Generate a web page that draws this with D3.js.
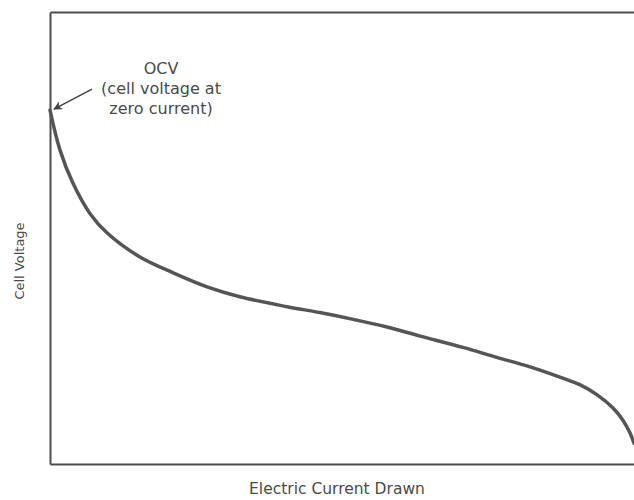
<!DOCTYPE html>
<html>
<head>
<meta charset="utf-8">
<script src="https://cdn.jsdelivr.net/npm/d3@7"></script>
<style>
  html, body { margin: 0; padding: 0; background: #fff; }
  svg { display: block; }
  text { font-family: "DejaVu Sans", sans-serif; fill: #4a4a4a; }
</style>
</head>
<body>
<svg id="chart" width="634" height="500"></svg>
<script>
// Current drawn (arbitrary units, 0–100)
const current = [0, 1.7, 3.9, 6.8, 9.8, 15.4, 21.1, 26.9, 32.5, 40.6, 46.2, 51.9, 57.7, 63.4, 70.7, 76.5, 82.2, 87.8, 90.8, 93.7, 96.4, 98.1, 99.3, 100];
// Cell voltage (arbitrary units, 0–100)
const voltage = [78.3, 69.5, 62.2, 55.5, 51.1, 45.8, 42.3, 39.2, 37.0, 34.8, 33.5, 32.0, 30.3, 28.3, 25.8, 23.6, 21.5, 19.0, 17.5, 15.3, 12.4, 9.7, 6.9, 4.6];
const xLabel = "Electric Current Drawn";
const yLabel = "Cell Voltage";
const annotationLines = ["OCV", "(cell voltage at", "zero current)"];

const svg = d3.select("#chart");
const margin = { left: 50, top: 12, right: 0, bottom: 36 };
const W = 634, H = 500;

const x = d3.scaleLinear().domain([0, 100]).range([margin.left, W - margin.right]);
const y = d3.scaleLinear().domain([0, 100]).range([H - margin.bottom, margin.top]);

const axisColor = "#4d4d4d";

// Frame: left, top, bottom
svg.append("g")
  .attr("transform", `translate(${margin.left},0)`)
  .call(d3.axisLeft(y).tickValues([]).tickSizeOuter(0))
  .call(g => g.select(".domain").attr("stroke", axisColor).attr("stroke-width", 2));
svg.append("g")
  .attr("transform", `translate(0,${y(0)})`)
  .call(d3.axisBottom(x).tickValues([]).tickSizeOuter(0))
  .call(g => g.select(".domain").attr("stroke", axisColor).attr("stroke-width", 2));
svg.append("g")
  .attr("transform", `translate(0,${y(100)})`)
  .call(d3.axisTop(x).tickValues([]).tickSizeOuter(0))
  .call(g => g.select(".domain").attr("stroke", axisColor).attr("stroke-width", 2));

// Curve
const data = current.map((c, i) => ({ c, v: voltage[i] }));
const line = d3.line().x(d => x(d.c)).y(d => y(d.v)).curve(d3.curveCatmullRom.alpha(0.5));
svg.append("path")
  .datum(data)
  .attr("d", line)
  .attr("fill", "none")
  .attr("stroke", "#555")
  .attr("stroke-width", 3.5)
  .attr("stroke-linecap", "round");

// Arrow marker
svg.append("defs").append("marker")
  .attr("id", "arrow")
  .attr("viewBox", "0 0 10 10")
  .attr("refX", 9).attr("refY", 5)
  .attr("markerWidth", 9).attr("markerHeight", 9)
  .attr("markerUnits", "userSpaceOnUse")
  .attr("orient", "auto")
  .append("path")
  .attr("d", "M0,0 L10,5 L0,10 L3,5 Z")
  .attr("fill", "#444");

// Annotation arrow pointing at OCV (first data point)
const ox = x(current[0]), oy = y(voltage[0]);
svg.append("line")
  .attr("x1", ox + 42).attr("y1", oy - 21)
  .attr("x2", ox + 4).attr("y2", oy - 1)
  .attr("stroke", "#444")
  .attr("stroke-width", 1.6)
  .attr("marker-end", "url(#arrow)");

// Annotation text
const ann = svg.append("text")
  .attr("text-anchor", "middle")
  .attr("font-size", 16);
annotationLines.forEach((t, i) => {
  ann.append("tspan")
    .attr("x", 161)
    .attr("y", 74 + i * 20)
    .text(t);
});

// Axis labels
svg.append("text")
  .attr("x", 337).attr("y", 494)
  .attr("text-anchor", "middle")
  .attr("font-size", 15.5)
  .text(xLabel);

svg.append("text")
  .attr("transform", "translate(24,261) rotate(-90)")
  .attr("text-anchor", "middle")
  .attr("font-size", 13)
  .text(yLabel);
</script>
</body>
</html>
